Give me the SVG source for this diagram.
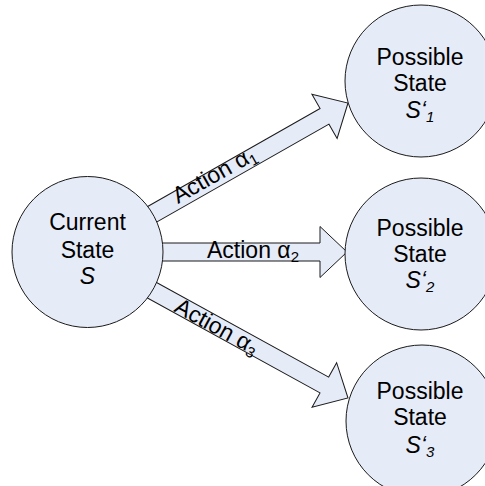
<svg xmlns="http://www.w3.org/2000/svg" width="485" height="486" viewBox="0 0 485 486">
  <style>
    .state { fill: #e5ebf7; stroke: #1a1a1a; stroke-width: 1; }
    .arrow { fill: #e5ebf7; stroke: #1a1a1a; stroke-width: 1; stroke-linejoin: miter; }
    text { font-family: "Liberation Sans", Arial, sans-serif; font-size: 23px; fill: #000; }
    .c { text-anchor: middle; }
    .it { font-style: italic; }
    .sub { font-size: 15px; }
  </style>
  <defs>
    <!-- block arrow pointing along +x with its tip at the origin -->
    <path id="block-arrow" d="M -240,-9 L -27,-9 L -27,-25.5 L 0,0 L -27,25.5 L -27,9 L -240,9 Z"/>
  </defs>

  <g id="connectors">
    <use href="#block-arrow" class="arrow" transform="translate(348,103) rotate(-29.6)"/>
    <use href="#block-arrow" class="arrow" transform="translate(347,252)"/>
    <use href="#block-arrow" class="arrow" transform="translate(348,398) rotate(28.8)"/>
    <text transform="translate(178,204) rotate(-29.6)">Action α<tspan class="sub" dy="4">1</tspan></text>
    <text x="207" y="258">Action α<tspan class="sub" dy="4">2</tspan></text>
    <text transform="translate(173,311) rotate(28.8)">Action α<tspan class="sub" dy="4">3</tspan></text>
  </g>

  <g id="current-state">
    <circle class="state" cx="87.5" cy="252" r="75.5"/>
    <text class="c" x="87.5" y="230">Current</text>
    <text class="c" x="87.5" y="258">State</text>
    <text class="c it" x="87.5" y="284">S</text>
  </g>

  <g id="possible-state-1">
    <circle class="state" cx="421" cy="81" r="76"/>
    <text class="c" x="420" y="65">Possible</text>
    <text class="c" x="420" y="91">State</text>
    <text class="c it" x="420" y="118">S‘<tspan class="sub" dy="4">1</tspan></text>
  </g>

  <g id="possible-state-2">
    <circle class="state" cx="421" cy="254" r="76"/>
    <text class="c" x="420" y="236">Possible</text>
    <text class="c" x="420" y="262">State</text>
    <text class="c it" x="420" y="288">S‘<tspan class="sub" dy="4">2</tspan></text>
  </g>

  <g id="possible-state-3">
    <circle class="state" cx="422" cy="421" r="76"/>
    <text class="c" x="420" y="399">Possible</text>
    <text class="c" x="420" y="425">State</text>
    <text class="c it" x="420" y="453">S‘<tspan class="sub" dy="4">3</tspan></text>
  </g>
</svg>
